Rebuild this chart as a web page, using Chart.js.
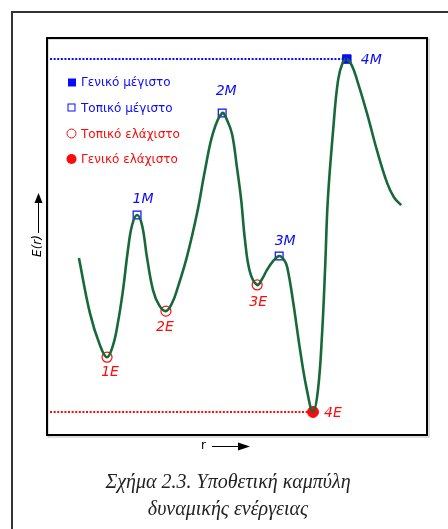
<!DOCTYPE html>
<html lang="el">
<head>
  <meta charset="UTF-8">
  <title>Υποθετική καμπύλη δυναμικής ενέργειας</title>
  <script src="https://cdn.jsdelivr.net/npm/chart.js"></script>
  <style>
    body { margin: 0; background: #fff; }
    #wrap { position: relative; width: 448px; height: 529px; overflow: hidden; }
    #page { position: absolute; left: 11px; top: 11px; width: 600px; height: 600px; border: 2px solid #333; }
    #chart { position: absolute; left: 0; top: 0; }
    .caption { position: absolute; left: 0; width: 456px; text-align: center; font-family: "Liberation Serif", serif; font-style: italic; font-size: 20px; color: #222; }
  </style>
</head>
<body>
<div id="wrap">
  <div id="page"></div>
  <canvas id="chart" width="448" height="529"></canvas>
  <div class="caption" style="top:470px">Σχήμα 2.3. Υποθετική καμπύλη</div>
  <div class="caption" style="top:497px">δυναμικής ενέργειας</div>
</div>

<script>
  // curve E(r) (arbitrary 0-100 units)
  const rValues = [8.4, 11.3, 13.9, 15.8, 17.4, 18.7, 20.0, 21.3, 22.4, 23.7, 25.0, 26.3, 27.9, 29.5, 31.3, 32.9, 34.2, 36.8,
                   39.5, 41.6, 43.7, 46.1, 47.4, 48.7, 50.0, 51.1, 52.1, 53.4, 55.3, 56.6, 57.9, 59.5, 61.1, 62.4, 63.2,
                   64.7, 66.6, 68.4, 70.0, 71.3, 72.4, 73.2, 73.9, 75.3, 76.6, 77.9, 78.9, 80.3, 81.6, 84.2, 86.8, 89.5,
                   91.3, 93.2];
  const energy  = [44.6, 30.7, 22.7, 19.6, 22.7, 28.5, 36.5, 46.6, 52.9, 55.4, 52.9, 44.8, 36.5, 32.7, 31.2, 33.2, 36.5, 44.8,
                   55.9, 66.8, 76.1, 81.1, 79.3, 75.8, 67.3, 59.2, 49.1, 41.1, 37.8, 39.3, 41.6, 43.8, 45.1, 44.1, 42.3,
                   34.0, 21.4, 11.3, 5.8, 11.3, 25.7, 42.3, 59.2, 76.8, 89.4, 94.0, 94.7, 92.9, 89.4, 81.1, 71.8, 63.5,
                   59.9, 57.9];

  // extrema
  const localMaxNames = ['1M', '2M', '3M'];
  const localMaxR = [23.7, 46.1, 61.1];
  const localMaxE = [55.4, 81.1, 45.1];
  const localMinNames = ['1E', '2E', '3E'];
  const localMinR = [15.8, 31.3, 55.3];
  const localMinE = [19.6, 31.2, 37.8];
  const globalMaxName = '4M';
  const globalMaxR = 78.9;
  const globalMaxE = 94.7;
  const globalMinName = '4E';
  const globalMinR = 70.0;
  const globalMinE = 5.8;
  const refLineStartR = 0.8;

  const legendLabels = ['Γενικό μέγιστο', 'Τοπικό μέγιστο', 'Τοπικό ελάχιστο', 'Γενικό ελάχιστο'];

  const BLUE = '#0a0aff';
  const RED = '#ff0a0a';
  const GREEN = '#17693a';

  const pts = (xs, ys) => xs.map((x, i) => ({ x: x, y: ys[i] }));

  // frame, axis names, legend and point labels
  const decor = {
    id: 'decor',
    afterDraw(chart) {
      const ctx = chart.ctx;
      const a = chart.chartArea;
      const xs = chart.scales.x, ys = chart.scales.y;
      ctx.save();

      // inner frame
      ctx.strokeStyle = '#bbb';
      ctx.lineWidth = 1;
      ctx.strokeRect(a.left + 1, a.top + 1, a.right - a.left + 1, a.bottom - a.top + 1);
      ctx.strokeStyle = '#000';
      ctx.lineWidth = 2;
      ctx.strokeRect(a.left, a.top, a.right - a.left, a.bottom - a.top);

      // axis names with arrows
      ctx.fillStyle = '#000';
      ctx.strokeStyle = '#000';
      ctx.lineWidth = 1;
      ctx.font = '12px "DejaVu Sans"';
      ctx.textBaseline = 'middle';
      ctx.textAlign = 'left';
      ctx.fillText('r', 201, 446);
      ctx.beginPath(); ctx.moveTo(212, 446.5); ctx.lineTo(240, 446.5); ctx.stroke();
      ctx.beginPath(); ctx.moveTo(250, 446.5); ctx.lineTo(238, 442.5); ctx.lineTo(238, 450.5); ctx.closePath(); ctx.fill();

      ctx.save();
      ctx.translate(38, 246);
      ctx.rotate(-Math.PI / 2);
      ctx.textAlign = 'center';
      ctx.font = 'italic 12px "DejaVu Sans"';
      ctx.fillText('E(r)', 0, 0);
      ctx.restore();
      ctx.beginPath(); ctx.moveTo(38.5, 233); ctx.lineTo(38.5, 200); ctx.stroke();
      ctx.beginPath(); ctx.moveTo(38.5, 193); ctx.lineTo(34.5, 203); ctx.lineTo(42.5, 203); ctx.closePath(); ctx.fill();

      // legend
      const lx = 71.5, ly = [82, 107.5, 133.5, 159];
      ctx.font = '12px "DejaVu Sans"';
      ctx.textAlign = 'left';
      legendLabels.forEach((t, i) => {
        const col = i < 2 ? BLUE : RED;
        ctx.fillStyle = col;
        ctx.strokeStyle = col;
        ctx.lineWidth = 1;
        if (i === 0) ctx.fillRect(lx - 3.5, ly[i] - 3.5, 8, 8);
        if (i === 1) ctx.strokeRect(lx - 3.5, ly[i] - 3.5, 7, 7);
        if (i === 2) { ctx.beginPath(); ctx.arc(lx, ly[i], 4.5, 0, Math.PI * 2); ctx.stroke(); }
        if (i === 3) { ctx.beginPath(); ctx.arc(lx, ly[i], 5, 0, Math.PI * 2); ctx.fill(); }
        ctx.fillText(t, 81, ly[i] + 1);
      });

      // point labels
      ctx.font = 'italic 14px "DejaVu Sans"';
      const put = (name, r, e, dx, dy, align, col) => {
        ctx.fillStyle = col;
        ctx.textAlign = align;
        ctx.fillText(name, xs.getPixelForValue(r) + dx, ys.getPixelForValue(e) + dy);
      };
      const maxOff = [[6, -16], [4, -22], [6, -15]];
      const minOff = [[3, 15], [-1, 16], [1, 17]];
      localMaxNames.forEach((n, i) => put(n, localMaxR[i], localMaxE[i], maxOff[i][0], maxOff[i][1], 'center', BLUE));
      localMinNames.forEach((n, i) => put(n, localMinR[i], localMinE[i], minOff[i][0], minOff[i][1], 'center', RED));
      put(globalMaxName, globalMaxR, globalMaxE, 14, 1, 'left', BLUE);
      put(globalMinName, globalMinR, globalMinE, 11, 1, 'left', RED);

      ctx.restore();
    }
  };

  new Chart(document.getElementById('chart'), {
    type: 'line',
    data: {
      datasets: [
        {
          data: pts([refLineStartR, globalMaxR], [globalMaxE, globalMaxE]),
          borderColor: BLUE, borderWidth: 2, borderDash: [2, 1.6], pointRadius: 0
        },
        {
          data: pts([refLineStartR, globalMinR], [globalMinE, globalMinE]),
          borderColor: RED, borderWidth: 2, borderDash: [2, 1.6], pointRadius: 0
        },
        {
          data: pts(rValues, energy),
          borderColor: GREEN, borderWidth: 2.6, tension: 0.4, pointRadius: 0
        },
        {
          data: pts(localMaxR, localMaxE), showLine: false,
          pointStyle: 'rect', pointRadius: 5.5, pointBorderWidth: 1.2,
          pointBorderColor: BLUE, pointBackgroundColor: '#fff'
        },
        {
          data: pts([globalMaxR], [globalMaxE]), showLine: false,
          pointStyle: 'rect', pointRadius: 6, pointBorderWidth: 1,
          pointBorderColor: BLUE, pointBackgroundColor: BLUE
        },
        {
          data: pts(localMinR, localMinE), showLine: false,
          pointStyle: 'circle', pointRadius: 5, pointBorderWidth: 1.2,
          pointBorderColor: RED, pointBackgroundColor: '#fff'
        },
        {
          data: pts([globalMinR], [globalMinE]), showLine: false,
          pointStyle: 'circle', pointRadius: 5.5, pointBorderWidth: 1,
          pointBorderColor: RED, pointBackgroundColor: RED
        }
      ]
    },
    options: {
      responsive: false,
      animation: false,
      layout: { padding: { left: 47, top: 38, right: 21, bottom: 94 } },
      scales: {
        x: { type: 'linear', min: 0, max: 100, display: false },
        y: { min: 0, max: 100, display: false }
      },
      plugins: { legend: { display: false }, tooltip: { enabled: false } }
    },
    plugins: [decor]
  });
</script>
</body>
</html>
